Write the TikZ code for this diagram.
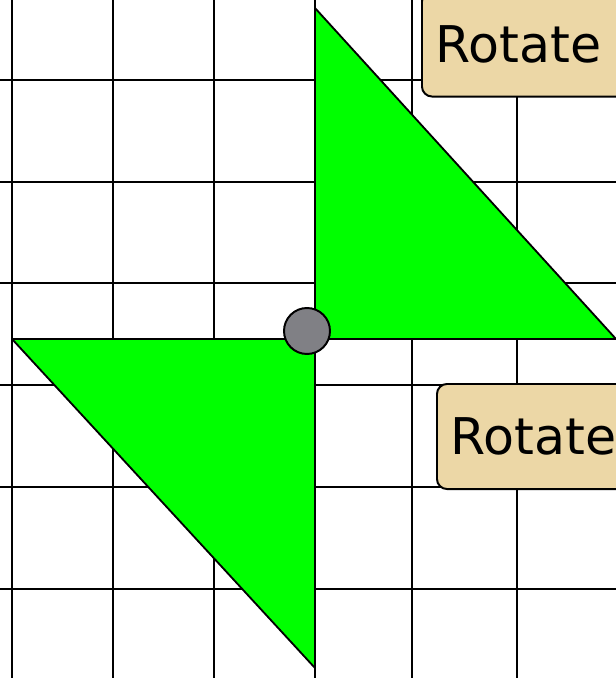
\documentclass[tikz,border=0pt]{standalone}
\usepackage{fontspec}
\setmainfont{DejaVu Sans}
\usepackage{tikz}

\definecolor{parchment}{RGB}{236,215,166}
\definecolor{pivotgray}{RGB}{128,128,133}

\begin{document}
\begin{tikzpicture}[x=0.025cm, y=-0.025cm,
    gridline/.style={black, line width=1.8pt},
    flag/.style={fill=green, draw=black, line width=1.3pt, line join=round},
    tag/.style={draw=black, fill=parchment, line width=1.4pt, rounded corners=0.25cm,
        minimum height=2.625cm, text width=5cm, inner xsep=0.35cm, align=left,
        font=\fontsize{36}{40}\selectfont, anchor=west}]
    \useasboundingbox (0,0) rectangle (616,678);
    \clip (0,0) rectangle (616,678);

    % grid
    \draw[gridline] (12,0) -- (12,678);
    \draw[gridline] (113,0) -- (113,678);
    \draw[gridline] (214,0) -- (214,678);
    \draw[gridline] (315,0) -- (315,678);
    \draw[gridline] (412,0) -- (412,678);
    \draw[gridline] (517,0) -- (517,678);
    \draw[gridline] (0,80) -- (616,80);
    \draw[gridline] (0,182) -- (616,182);
    \draw[gridline] (0,283) -- (616,283);
    \draw[gridline] (0,385) -- (616,385);
    \draw[gridline] (0,487) -- (616,487);
    \draw[gridline] (0,589) -- (616,589);

    % the two triangles
    \coordinate (T1) at (315,8);
    \coordinate (T2) at (315,339);
    \coordinate (T3) at (616,339);
    \coordinate (B1) at (12,339);
    \coordinate (B2) at (315,339);
    \coordinate (B3) at (315,668);
    \filldraw[flag] (T1) -- (T2) -- (T3) -- cycle;
    \filldraw[flag] (B1) -- (B2) -- (B3) -- cycle;

    \node (pivot) [circle, draw=black, fill=pivotgray, line width=1.4pt,
        minimum size=1.15cm, inner sep=0pt] at (307,331) {};

    \node (R1) [tag] at (421,44) {Rotate};
    \node (R2) [tag] at (436,436.5) {Rotate};
\end{tikzpicture}
\end{document}
